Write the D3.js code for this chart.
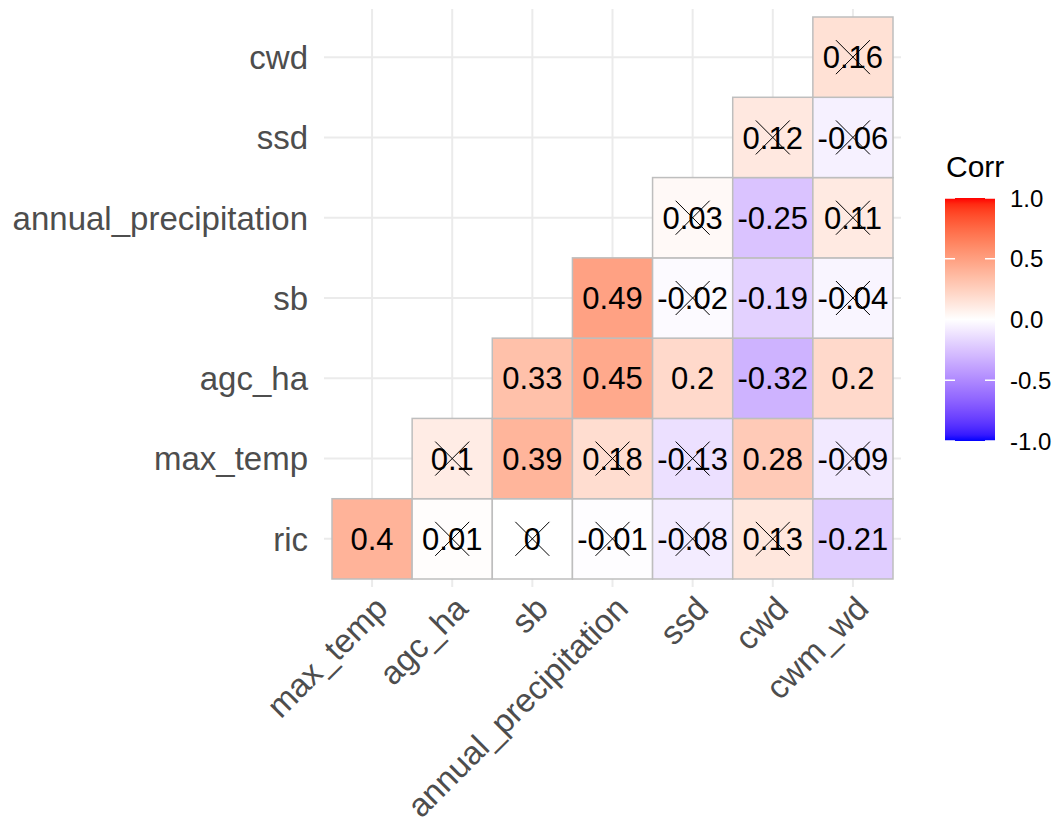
<!DOCTYPE html>
<html>
<head>
<meta charset="utf-8">
<script src="https://cdn.jsdelivr.net/npm/d3@7"></script>
<style>
  body { margin: 0; background: #fff; }
  svg { display: block; font-family: "Liberation Sans", Arial, sans-serif; }
</style>
</head>
<body>
<script>
// variables along each axis
const xVars = ["max_temp", "agc_ha", "sb", "annual_precipitation", "ssd", "cwd", "cwm_wd"]
const yVars = ["ric", "max_temp", "agc_ha", "sb", "annual_precipitation", "ssd", "cwd"]

// correlation values, one row per yVar, aligned with xVars (null = empty)
const corrRic      = [0.4, 0.01, 0, -0.01, -0.08, 0.13, -0.21]
const corrMaxTemp  = [null, 0.1, 0.39, 0.18, -0.13, 0.28, -0.09]
const corrAgcHa    = [null, null, 0.33, 0.45, 0.2, -0.32, 0.2]
const corrSb       = [null, null, null, 0.49, -0.02, -0.19, -0.04]
const corrAnnPrec  = [null, null, null, null, 0.03, -0.25, 0.11]
const corrSsd      = [null, null, null, null, null, 0.12, -0.06]
const corrCwd      = [null, null, null, null, null, null, 0.16]

// crossed out (not significant) cells, same layout
const insigRic     = [0, 1, 1, 1, 1, 1, 0]
const insigMaxTemp = [0, 1, 0, 1, 1, 0, 1]
const insigAgcHa   = [0, 0, 0, 0, 0, 0, 0]
const insigSb      = [0, 0, 0, 0, 1, 0, 1]
const insigAnnPrec = [0, 0, 0, 0, 1, 0, 1]
const insigSsd     = [0, 0, 0, 0, 0, 1, 1]
const insigCwd     = [0, 0, 0, 0, 0, 0, 1]

const legendTicks = [1.0, 0.5, 0.0, -0.5, -1.0]

const corrRows = [corrRic, corrMaxTemp, corrAgcHa, corrSb, corrAnnPrec, corrSsd, corrCwd]
const insigRows = [insigRic, insigMaxTemp, insigAgcHa, insigSb, insigAnnPrec, insigSsd, insigCwd]

const width = 1059, height = 835
const panel = {left: 324, right: 901, top: 9, bottom: 587}

const svg = d3.select("body").append("svg")
    .attr("width", width)
    .attr("height", height)

const x = d3.scaleBand()
    .domain(xVars)
    .range([332, 893])
const y = d3.scaleBand()
    .domain(yVars.slice().reverse())
    .range([17, 579])

const toRed = d3.interpolateLab("#ffffff", "#ff0000")
const toBlue = d3.interpolateLab("#ffffff", "#0000ff")
const fill = v => v >= 0 ? toRed(v) : toBlue(-v)

// flatten into cells
let cells = []
yVars.forEach((yv, r) => {
    xVars.forEach((xv, c) => {
        const v = corrRows[r][c]
        if (v !== null) cells.push({x: xv, y: yv, value: v, insig: insigRows[r][c] === 1})
    })
})

// grid lines
const grid = svg.append("g").attr("class", "grid")
grid.selectAll(".vgrid")
    .data(xVars)
    .enter().append("line")
    .attr("x1", d => x(d) + x.bandwidth() / 2)
    .attr("x2", d => x(d) + x.bandwidth() / 2)
    .attr("y1", panel.top)
    .attr("y2", panel.bottom)
    .attr("stroke", "#ebebeb")
    .attr("stroke-width", 2)
grid.selectAll(".hgrid")
    .data(yVars)
    .enter().append("line")
    .attr("y1", d => y(d) + y.bandwidth() / 2)
    .attr("y2", d => y(d) + y.bandwidth() / 2)
    .attr("x1", panel.left)
    .attr("x2", panel.right)
    .attr("stroke", "#ebebeb")
    .attr("stroke-width", 2)

// tiles
svg.append("g").attr("class", "tiles")
    .selectAll("rect")
    .data(cells)
    .enter().append("rect")
    .attr("x", d => x(d.x))
    .attr("y", d => y(d.y))
    .attr("width", x.bandwidth())
    .attr("height", y.bandwidth())
    .attr("fill", d => fill(d.value))
    .attr("stroke", "#bebebe")
    .attr("stroke-width", 1.5)

// labels
svg.append("g").attr("class", "labels")
    .selectAll("text")
    .data(cells)
    .enter().append("text")
    .attr("x", d => x(d.x) + x.bandwidth() / 2)
    .attr("y", d => y(d.y) + y.bandwidth() / 2)
    .attr("dy", "0.36em")
    .attr("text-anchor", "middle")
    .attr("font-size", 31)
    .attr("fill", "#000")
    .text(d => String(d.value))

// crosses for non-significant cells
const crossHalf = 17
svg.append("g").attr("class", "crosses")
    .selectAll("path")
    .data(cells.filter(d => d.insig))
    .enter().append("path")
    .attr("d", d => {
        const cx = x(d.x) + x.bandwidth() / 2, cy = y(d.y) + y.bandwidth() / 2
        return `M${cx - crossHalf},${cy - crossHalf}L${cx + crossHalf},${cy + crossHalf}` +
            `M${cx - crossHalf},${cy + crossHalf}L${cx + crossHalf},${cy - crossHalf}`
    })
    .attr("stroke", "#000")
    .attr("stroke-width", 1)
    .attr("fill", "none")

// y axis labels
svg.append("g").attr("class", "y-axis")
    .selectAll("text")
    .data(yVars)
    .enter().append("text")
    .attr("x", 308)
    .attr("y", d => y(d) + y.bandwidth() / 2)
    .attr("dy", "0.36em")
    .attr("text-anchor", "end")
    .attr("font-size", 33)
    .attr("fill", "#4d4d4d")
    .text(d => d)

// x axis labels, rotated 45 degrees
svg.append("g").attr("class", "x-axis")
    .selectAll("text")
    .data(xVars)
    .enter().append("text")
    .attr("transform", d => `translate(${x(d) + x.bandwidth() / 2},${panel.bottom + 6}) rotate(-45)`)
    .attr("dy", "0.75em")
    .attr("text-anchor", "end")
    .attr("font-size", 33)
    .attr("fill", "#4d4d4d")
    .text(d => d)

// legend colour bar
const bar = {x: 945, w: 50, top: 198, bottom: 441}
const ly = d3.scaleLinear().domain([1, -1]).range([bar.top, bar.bottom])

const grad = svg.append("defs").append("linearGradient")
    .attr("id", "corr-grad")
    .attr("x1", 0).attr("x2", 0)
    .attr("y1", 0).attr("y2", 1)
grad.selectAll("stop")
    .data(d3.range(0, 41))
    .enter().append("stop")
    .attr("offset", i => i / 40)
    .attr("stop-color", i => fill(1 - i / 20))

const legend = svg.append("g").attr("class", "legend")
legend.append("text")
    .attr("x", 946)
    .attr("y", 177)
    .attr("font-size", 30)
    .attr("fill", "#000")
    .text("Corr")
legend.append("rect")
    .attr("x", bar.x)
    .attr("y", bar.top)
    .attr("width", bar.w)
    .attr("height", bar.bottom - bar.top)
    .attr("fill", "url(#corr-grad)")
legend.selectAll(".tick-l")
    .data(legendTicks)
    .enter().append("line")
    .attr("x1", bar.x).attr("x2", bar.x + 10)
    .attr("y1", d => ly(d)).attr("y2", d => ly(d))
    .attr("stroke", "#fff").attr("stroke-width", 1.5)
legend.selectAll(".tick-r")
    .data(legendTicks)
    .enter().append("line")
    .attr("x1", bar.x + bar.w - 10).attr("x2", bar.x + bar.w)
    .attr("y1", d => ly(d)).attr("y2", d => ly(d))
    .attr("stroke", "#fff").attr("stroke-width", 1.5)
legend.selectAll(".tick-label")
    .data(legendTicks)
    .enter().append("text")
    .attr("x", 1010)
    .attr("y", d => ly(d))
    .attr("dy", "0.36em")
    .attr("font-size", 24)
    .attr("fill", "#000")
    .text(d => d3.format(".1f")(d).replace("−", "-"))
</script>
</body>
</html>
